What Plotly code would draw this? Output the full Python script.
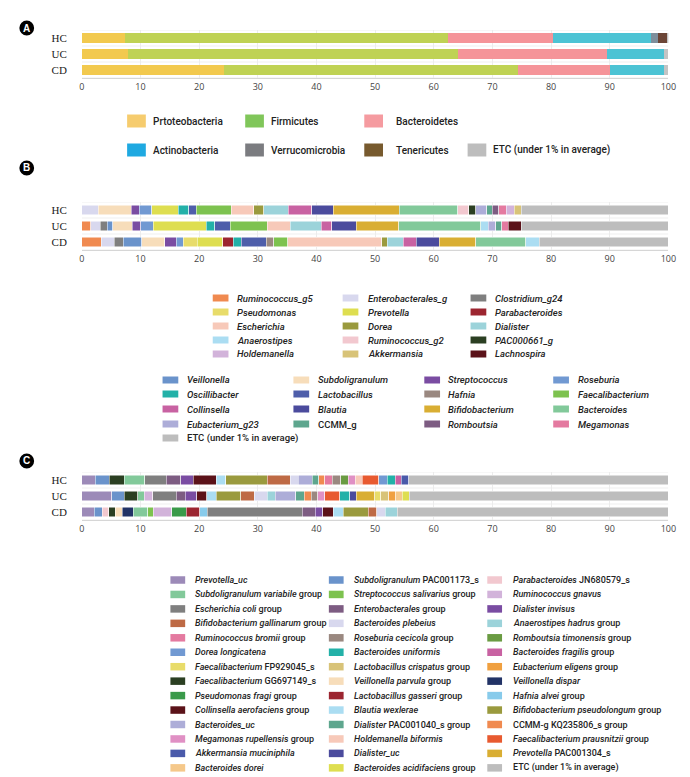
import plotly.graph_objects as go

# ---------------- DATA ----------------
groups = ["HC", "UC", "CD"]
x_ticks = [0, 10, 20, 30, 40, 50, 60, 70, 80, 90, 100]

# Panel A: phylum level (% relative abundance)
phylum_names = ["Prtoteobacteria", "Firmicutes", "Bacteroidetes", "Actinobacteria",
                "Verrucomicrobia", "Tenericutes", "ETC (under 1% in average)"]
phylum_HC = [7.4, 55.1, 17.8, 16.7, 1.3, 1.5, 0.2]
phylum_UC = [7.9, 56.3, 25.4, 9.6, 0.0, 0.0, 0.8]
phylum_CD = [24.2, 50.1, 15.7, 9.2, 0.0, 0.0, 0.8]

# Panel B: genus level (stacking order)
genus_names = ["Ruminococcus_g5", "Enterobacterales_g", "Clostridium_g24", "Veillonella",
               "Subdoligranulum", "Streptococcus", "Roseburia", "Pseudomonas", "Prevotella",
               "Parabacteroides", "Oscillibacter", "Lactobacillus", "Hafnia", "Faecalibacterium",
               "Escherichia", "Dorea", "Dialister", "Collinsella", "Blautia", "Bifidobacterium",
               "Bacteroides", "Anaerostipes", "Ruminococcus_g2", "PAC000661_g", "Eubacterium_g23",
               "CCMM_g", "Romboutsia", "Megamonas", "Holdemanella", "Akkermansia", "Lachnospira",
               "ETC (under 1% in average)"]
genus_HC = [0, 2.8, 0, 0, 5.6, 1.4, 2.1, 0, 4.5, 0, 1.8, 1.3, 0, 6.0, 3.8, 1.7, 4.2, 4.0, 3.7,
            11.2, 10.0, 0, 1.9, 1.2, 1.8, 1.0, 1.1, 1.3, 1.3, 1.2, 0, 25.1]
genus_UC = [1.5, 1.6, 1.2, 1.0, 3.3, 1.4, 2.2, 0, 9.0, 0, 1.5, 2.6, 0, 6.3, 3.9, 0, 5.3, 1.8, 4.2,
            7.2, 14.0, 1.3, 0, 0, 1.3, 1.0, 0, 1.1, 0, 0, 2.2, 25.1]
genus_CD = [3.3, 2.2, 1.6, 3.1, 3.9, 2.0, 1.2, 2.4, 4.3, 1.8, 1.4, 4.2, 1.3, 2.4, 16.0, 1.0, 2.7,
            2.2, 3.9, 6.3, 8.5, 2.3, 0, 0, 0, 0, 0, 0, 0, 0, 0, 22.0]

# Panel C: species level (stacking order)
species_names = ["Prevotella_uc", "Subdoligranulum PAC001173_s", "Parabacteroides JN680579_s",
                 "Faecalibacterium GG697149_s", "Veillonella parvula group", "Veillonella dispar",
                 "Subdoligranulum variabile group", "Streptococcus salivarius group",
                 "Ruminococcus gnavus", "Pseudomonas fragi group", "Lactobacillus gasseri group",
                 "Hafnia alvei group", "Escherichia coli group", "Enterobacterales group",
                 "Dialister invisus", "Collinsella aerofaciens group", "Blautia wexlerae",
                 "Bifidobacterium pseudolongum group", "Bifidobacterium gallinarum group",
                 "Bacteroides plebeius", "Anaerostipes hadrus group", "Bacteroides_uc",
                 "Dialister PAC001040_s group", "CCMM-g KQ235806_s group", "Ruminococcus bromii group",
                 "Roseburia cecicola group", "Romboutsia timonensis group", "Megamonas rupellensis group",
                 "Holdemanella biformis", "Faecalibacterium prausnitzii group", "Dorea longicatena",
                 "Bacteroides uniformis", "Bacteroides fragilis group", "Akkermansia muciniphila",
                 "Dialister_uc", "Prevotella PAC001304_s", "Faecalibacterium FP929045_s",
                 "Lactobacillus crispatus group", "Eubacterium eligens group", "Bacteroides dorei",
                 "Bacteroides acidifaciens group", "ETC (under 1% in average)"]
species_HC = [2.3, 2.4, 0, 2.5, 0, 0, 3.5, 0, 0, 0, 0, 0, 3.7, 2.5, 2.1, 3.9, 1.6, 7.1, 3.9, 1.4,
              0, 2.4, 1.1, 1.0, 1.3, 1.4, 1.3, 1.2, 1.2, 2.8, 1.5, 1.3, 1.1, 1.2, 0, 0, 0, 0, 0,
              0, 0, 44.3]
species_UC = [5.1, 2.1, 0, 2.3, 0, 0, 1.1, 0, 1.5, 0, 0, 0, 4.0, 1.5, 2.0, 1.7, 1.6, 4.2, 2.3, 2.2,
              1.4, 3.5, 1.4, 1.2, 0, 1.1, 0, 1.2, 0, 2.6, 0, 1.7, 0, 0, 1.1, 3.1, 1.1, 1.3, 1.2,
              1.1, 1.2, 44.2]
species_CD = [2.1, 1.4, 1.1, 1.1, 1.2, 1.9, 2.4, 1.0, 3.1, 2.5, 2.3, 1.3, 16.2, 2.2, 1.3, 1.8, 1.7,
              4.2, 1.5, 1.4, 2.1, 0, 0, 0, 0, 0, 0, 0, 0, 0, 0, 0, 0, 0, 0, 0, 0, 0, 0, 0, 0, 46.2]

# Legend layouts (reading order of the reference legends)
phylum_legend_rows = [["Prtoteobacteria", "Firmicutes", "Bacteroidetes"],
                      ["Actinobacteria", "Verrucomicrobia", "Tenericutes", "ETC (under 1% in average)"]]
genus_legend_block1 = [  # columns
    ["Ruminococcus_g5", "Pseudomonas", "Escherichia", "Anaerostipes", "Holdemanella"],
    ["Enterobacterales_g", "Prevotella", "Dorea", "Ruminococcus_g2", "Akkermansia"],
    ["Clostridium_g24", "Parabacteroides", "Dialister", "PAC000661_g", "Lachnospira"]]
genus_legend_block2 = [
    ["Veillonella", "Oscillibacter", "Collinsella", "Eubacterium_g23", "ETC (under 1% in average)"],
    ["Subdoligranulum", "Lactobacillus", "Blautia", "CCMM_g"],
    ["Streptococcus", "Hafnia", "Bifidobacterium", "Romboutsia"],
    ["Roseburia", "Faecalibacterium", "Bacteroides", "Megamonas"]]
species_legend_cols = [
    ["Prevotella_uc", "Subdoligranulum variabile group", "Escherichia coli group",
     "Bifidobacterium gallinarum group", "Ruminococcus bromii group", "Dorea longicatena",
     "Faecalibacterium FP929045_s", "Faecalibacterium GG697149_s", "Pseudomonas fragi group",
     "Collinsella aerofaciens group", "Bacteroides_uc", "Megamonas rupellensis group",
     "Akkermansia muciniphila", "Bacteroides dorei"],
    ["Subdoligranulum PAC001173_s", "Streptococcus salivarius group", "Enterobacterales group",
     "Bacteroides plebeius", "Roseburia cecicola group", "Bacteroides uniformis",
     "Lactobacillus crispatus group", "Veillonella parvula group", "Lactobacillus gasseri group",
     "Blautia wexlerae", "Dialister PAC001040_s group", "Holdemanella biformis", "Dialister_uc",
     "Bacteroides acidifaciens group"],
    ["Parabacteroides JN680579_s", "Ruminococcus gnavus", "Dialister invisus",
     "Anaerostipes hadrus group", "Romboutsia timonensis group", "Bacteroides fragilis group",
     "Eubacterium eligens group", "Veillonella dispar", "Hafnia alvei group",
     "Bifidobacterium pseudolongum group", "CCMM-g KQ235806_s group",
     "Faecalibacterium prausnitzii group", "Prevotella PAC001304_s", "ETC (under 1% in average)"]]

# ---------------- STYLE ----------------
ETC_COL = "#bdbdbd"
phylum_bar_colors = {"Prtoteobacteria": "#f2c94e", "Firmicutes": "#bfd254", "Bacteroidetes": "#f59499",
                     "Actinobacteria": "#4cc3d4", "Verrucomicrobia": "#7d8e9b", "Tenericutes": "#6b4536",
                     "ETC (under 1% in average)": "#c4c4c4"}
phylum_legend_colors = {"Prtoteobacteria": "#f6cc6e", "Firmicutes": "#80c65a", "Bacteroidetes": "#f59ba0",
                        "Actinobacteria": "#1fa9e1", "Verrucomicrobia": "#7b7c80", "Tenericutes": "#775a2e",
                        "ETC (under 1% in average)": ETC_COL}
genus_colors = {
    "Ruminococcus_g5": "#f08a50", "Pseudomonas": "#e8dc6a", "Escherichia": "#f7c9b9",
    "Anaerostipes": "#abddf2", "Holdemanella": "#d2b3da", "Enterobacterales_g": "#d8d8ee",
    "Prevotella": "#dede50", "Dorea": "#9a9a3e", "Ruminococcus_g2": "#f2c8cf", "Akkermansia": "#d8c378",
    "Clostridium_g24": "#7f7f7f", "Parabacteroides": "#9c2530", "Dialister": "#9cd3da",
    "PAC000661_g": "#2b3f22", "Lachnospira": "#5b1219", "Veillonella": "#6a93cb",
    "Oscillibacter": "#23b1a8", "Collinsella": "#c862a2", "Eubacterium_g23": "#adadd8",
    "ETC (under 1% in average)": ETC_COL, "Subdoligranulum": "#f7ddba", "Lactobacillus": "#4e5eaa",
    "Blautia": "#4b4b9d", "CCMM_g": "#5ea68e", "Streptococcus": "#7a4ca2", "Hafnia": "#9a8880",
    "Bifidobacterium": "#d9ae33", "Romboutsia": "#7d5c82", "Roseburia": "#7199d2",
    "Faecalibacterium": "#7dc24f", "Bacteroides": "#82c99a", "Megamonas": "#e47aa0"}
species_colors = {
    "Prevotella_uc": "#9c8ab8", "Subdoligranulum variabile group": "#82c99a",
    "Escherichia coli group": "#7f7f7f", "Bifidobacterium gallinarum group": "#be6a45",
    "Ruminococcus bromii group": "#e47aa0", "Dorea longicatena": "#7199d2",
    "Faecalibacterium FP929045_s": "#e8dc6a", "Faecalibacterium GG697149_s": "#2b3f22",
    "Pseudomonas fragi group": "#3a9a4a", "Collinsella aerofaciens group": "#5b1219",
    "Bacteroides_uc": "#adadd8", "Megamonas rupellensis group": "#e090c4",
    "Akkermansia muciniphila": "#4a5aaa", "Bacteroides dorei": "#f5c88a",
    "Subdoligranulum PAC001173_s": "#6a93cb", "Streptococcus salivarius group": "#7dc24f",
    "Enterobacterales group": "#7d5c82", "Bacteroides plebeius": "#d8d8ee",
    "Roseburia cecicola group": "#9a8880", "Bacteroides uniformis": "#23b1a8",
    "Lactobacillus crispatus group": "#d8c378", "Veillonella parvula group": "#f7ddba",
    "Lactobacillus gasseri group": "#9c2530", "Blautia wexlerae": "#abddf2",
    "Dialister PAC001040_s group": "#5ea68e", "Holdemanella biformis": "#f7c9b9",
    "Dialister_uc": "#4b4b9d", "Bacteroides acidifaciens group": "#dede50",
    "Parabacteroides JN680579_s": "#f2c8cf", "Ruminococcus gnavus": "#d2b3da",
    "Dialister invisus": "#7a4ca2", "Anaerostipes hadrus group": "#9cd3da",
    "Romboutsia timonensis group": "#6a9b42", "Bacteroides fragilis group": "#c862a2",
    "Eubacterium eligens group": "#f0a040", "Veillonella dispar": "#223366",
    "Hafnia alvei group": "#88cbeb", "Bifidobacterium pseudolongum group": "#9a9a3e",
    "CCMM-g KQ235806_s group": "#f08a50", "Faecalibacterium prausnitzii group": "#e85a30",
    "Prevotella PAC001304_s": "#d9ae33", "ETC (under 1% in average)": ETC_COL}

W, H = 690, 777
def px(x): return x / W
def py(y): return 1 - y / H

X0, X1 = 72, 668
PANEL_Y = {"": (22, 70), "2": (194, 242), "3": (464, 512)}
LEG_FONT = "Roboto"


def fmt_genus(name):
    if name.startswith("ETC") or name.startswith("CCMM"):
        return name
    return "<i>" + name + "</i>"


def fmt_species(name):
    if name.startswith("ETC") or name.startswith("CCMM"):
        return name
    words = name.split(" ")
    k = len(words)
    for i, w in enumerate(words):
        if i > 0 and (w == "group" or w.endswith("_s")):
            k = i
            break
    ital = " ".join(words[:k])
    rest = " ".join(words[k:])
    return "<i>" + ital + "</i>" + ((" " + rest) if rest else "")


fig = go.Figure()


def add_stack(names, hc, uc, cd, colors, suffix, line_w):
    for i, n in enumerate(names):
        vals = [hc[i], uc[i], cd[i]]
        vals = [v if v > 0 else None for v in vals]
        fig.add_trace(go.Bar(
            y=groups, x=vals, orientation="h", name=n,
            marker=dict(color=colors[n], line=dict(color="white", width=line_w)),
            xaxis="x" + suffix, yaxis="y" + suffix, showlegend=False,
            hovertemplate=n + ": %{x}%<extra>%{y}</extra>"))


add_stack(phylum_names, phylum_HC, phylum_UC, phylum_CD, phylum_bar_colors, "", 0)
add_stack(genus_names, genus_HC, genus_UC, genus_CD, genus_colors, "2", 0.5)
add_stack(species_names, species_HC, species_UC, species_CD, species_colors, "3", 0.5)

layout = dict(width=W, height=H, margin=dict(l=0, r=0, t=0, b=0), autosize=False,
              paper_bgcolor="white", plot_bgcolor="white", barmode="stack", bargap=0.42,
              showlegend=False)
shapes, annos = [], []

for s, (ytop, ybot) in PANEL_Y.items():
    layout["xaxis" + s] = dict(domain=[px(X0), px(X1)], anchor="y" + s, range=[0, 100],
                               tickvals=x_ticks, showgrid=True, gridcolor="#ececec", gridwidth=1,
                               zeroline=False, showline=True, linecolor="#d6d6d6", linewidth=1,
                               ticks="", tickfont=dict(family="Open Sans", size=9, color="#444"),
                               fixedrange=True)
    layout["yaxis" + s] = dict(domain=[py(ybot), py(ytop)], anchor="x" + s, type="category",
                               categoryorder="array", categoryarray=["CD", "UC", "HC"],
                               range=[-0.5, 2.5], showgrid=False, zeroline=False, ticks="",
                               ticklabelstandoff=14,
                               tickfont=dict(family="Liberation Serif", size=11, color="#222"),
                               fixedrange=True)
    for b in [-0.5, 0.5, 1.5, 2.5]:
        shapes.append(dict(type="line", xref="x" + s, yref="y" + s, x0=0, x1=100, y0=b, y1=b,
                           line=dict(color="#efefef", width=1), layer="below"))

# badges
for letter, yc in [("A", 20), ("B", 160), ("C", 453)]:
    r = 7.5
    shapes.append(dict(type="circle", xref="paper", yref="paper", x0=px(16 - r), x1=px(16 + r),
                       y0=py(yc + r), y1=py(yc - r), fillcolor="black", line=dict(width=0)))
    annos.append(dict(x=px(16), y=py(yc), xref="paper", yref="paper", text="<b>" + letter + "</b>",
                      showarrow=False, font=dict(family="Liberation Sans", size=10, color="white"),
                      xanchor="center", yanchor="middle"))


def legend_item(label, color, sx, sy, sw, sh, tx, size):
    shapes.append(dict(type="rect", xref="paper", yref="paper", x0=px(sx), x1=px(sx + sw),
                       y0=py(sy + sh / 2), y1=py(sy - sh / 2), fillcolor=color, line=dict(width=0)))
    annos.append(dict(x=px(tx), y=py(sy), xref="paper", yref="paper", text=label, showarrow=False,
                      xanchor="left", yanchor="middle",
                      font=dict(family=LEG_FONT, size=size, color="#222", weight=500)))


# Panel A legend
a_cols = [(118, 142), (238, 262), (359, 389), (464, 488)]
a_rows = [113, 142]
for r, row in enumerate(phylum_legend_rows):
    for c, n in enumerate(row):
        sx, tx = a_cols[c]
        legend_item(n, phylum_legend_colors[n], sx, a_rows[r], 19, 13, tx, 10)

# Panel B legend
b1_cols = [(205, 228), (337, 361), (467, 490)]
b1_rows = [290, 304, 318, 332, 346]
for c, col in enumerate(genus_legend_block1):
    for r, n in enumerate(col):
        sx, tx = b1_cols[c]
        legend_item(fmt_genus(n), genus_colors[n], sx, b1_rows[r], 16, 7, tx, 9.5)
b2_cols = [(154, 177), (287, 310), (420, 442), (551, 574)]
b2_rows = [372, 386, 401, 416, 430]
for c, col in enumerate(genus_legend_block2):
    for r, n in enumerate(col):
        sx, tx = b2_cols[c]
        legend_item(fmt_genus(n), genus_colors[n], sx, b2_rows[r], 16, 7, tx, 9.5)

# Panel C legend
c_cols = [(162, 185), (323, 347), (484, 508)]
for c, col in enumerate(species_legend_cols):
    for r, n in enumerate(col):
        sx, tx = c_cols[c]
        legend_item(fmt_species(n), species_colors[n], sx, 572 + r * 14.45, 15, 7.5, tx, 9)

layout["shapes"] = shapes
layout["annotations"] = annos
fig.update_layout(**layout)
fig.write_html("out.html")
